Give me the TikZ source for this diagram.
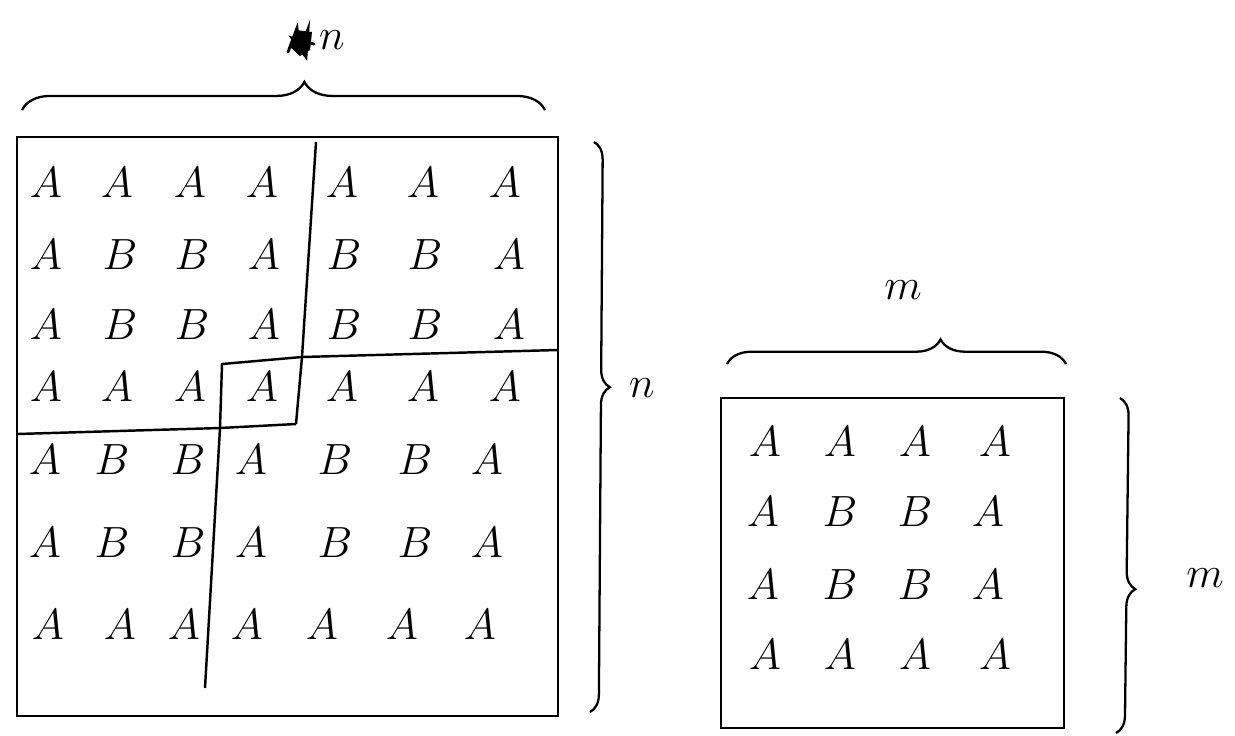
\documentclass[tikz,border=0pt]{standalone}
\usetikzlibrary{decorations.pathreplacing}
\tikzset{
  tile box/.style={draw=black,line width=1.6pt},
  tile cut/.style={black,line width=1.4pt,line join=round},
  tile letter/.style={font=\fontsize{28}{32}\selectfont,inner sep=0pt},
  size brace/.style={decorate,line width=1.3pt,decoration={brace,amplitude=#1}},
  size brace/.default=12pt,
  size label/.style={font=\fontsize{40}{44}\selectfont,inner sep=0pt}
}
\begin{document}
\begin{tikzpicture}[x=0.02cm,y=-0.02cm]
  \useasboundingbox (0,0) rectangle (1235,735);
  \begin{scope}
    \draw[tile box] (17,137) rectangle (558,716);
    \draw[tile cut] (316,142)--(302,357)--(296,424);
    \draw[tile cut] (558,350)--(302,357)--(222,364)--(220,428);
    \draw[tile cut] (17,434)--(220,428)--(296,424);
    \draw[tile cut] (220,428)--(205,688);
    \foreach \r/\y in {1/183,4/387}{
      \foreach \x [count=\c] in {46,117,190,262,342,423,505}{\node[tile letter] (big-\r-\c) at (\x,\y) {$A$};}}
    \foreach \r/\y in {2/255,3/325}{
      \foreach \x/\lab [count=\c] in {46/A,120/B,192/B,264/A,344/B,425/B,509/A}{\node[tile letter] (big-\r-\c) at (\x,\y) {$\lab$};}}
    \foreach \r/\y in {5/460,6/543}{
      \foreach \x/\lab [count=\c] in {45/A,112/B,188/B,251/A,335/B,415/B,487/A}{\node[tile letter] (big-\r-\c) at (\x,\y) {$\lab$};}}
    \foreach \r/\y in {7/625}{
      \foreach \x [count=\c] in {48,120,184,247,322,402,480}{\node[tile letter] (big-\r-\c) at (\x,\y) {$A$};}}
    \coordinate (bt-l) at (22,110);
    \coordinate (bt-r) at (545,110);
    \draw[size brace=16pt,decoration={aspect=.54}] (bt-l)--(bt-r);
    \fill (289,46)--(296,30)--(312,32)--(310,50)--(300,56)--cycle;
    \draw[line width=1.6pt,line cap=round] (288,52)--(297,28)--(300,50)--(308,29)--(306,57)--(292,38)--(314,44);
    \node[size label] (big-top) at (332,40) {$n$};
    \coordinate (br-t) at (594,142);
    \coordinate (br-b) at (590,712);
    \draw[size brace=10pt,decoration={aspect=.43}] (br-t)--(br-b);
    \node[size label] (big-side) at (642,388) {$n$};
  \end{scope}
  \begin{scope}
    \draw[tile box] (721,398) rectangle (1064,728);
    \foreach \r/\y in {1/442,4/655}{
      \foreach \x [count=\c] in {765,840,915,995}{\node[tile letter] (sm-\r-\c) at (\x,\y) {$A$};}}
    \foreach \r/\y in {2/512,3/585}{
      \foreach \x/\lab [count=\c] in {763/A,840/B,915/B,988/A}{\node[tile letter] (sm-\r-\c) at (\x,\y) {$\lab$};}}
    \coordinate (st-l) at (727,364);
    \coordinate (st-r) at (1066,364);
    \draw[size brace=14pt,decoration={aspect=.63}] (st-l)--(st-r);
    \node[size label] (sm-top) at (903,290) {$m$};
    \coordinate (sr-t) at (1120,398);
    \coordinate (sr-b) at (1116,733);
    \draw[size brace=10pt,decoration={aspect=.57}] (sr-t)--(sr-b);
    \node[size label] (sm-side) at (1205,578) {$m$};
  \end{scope}
\end{tikzpicture}
\end{document}
